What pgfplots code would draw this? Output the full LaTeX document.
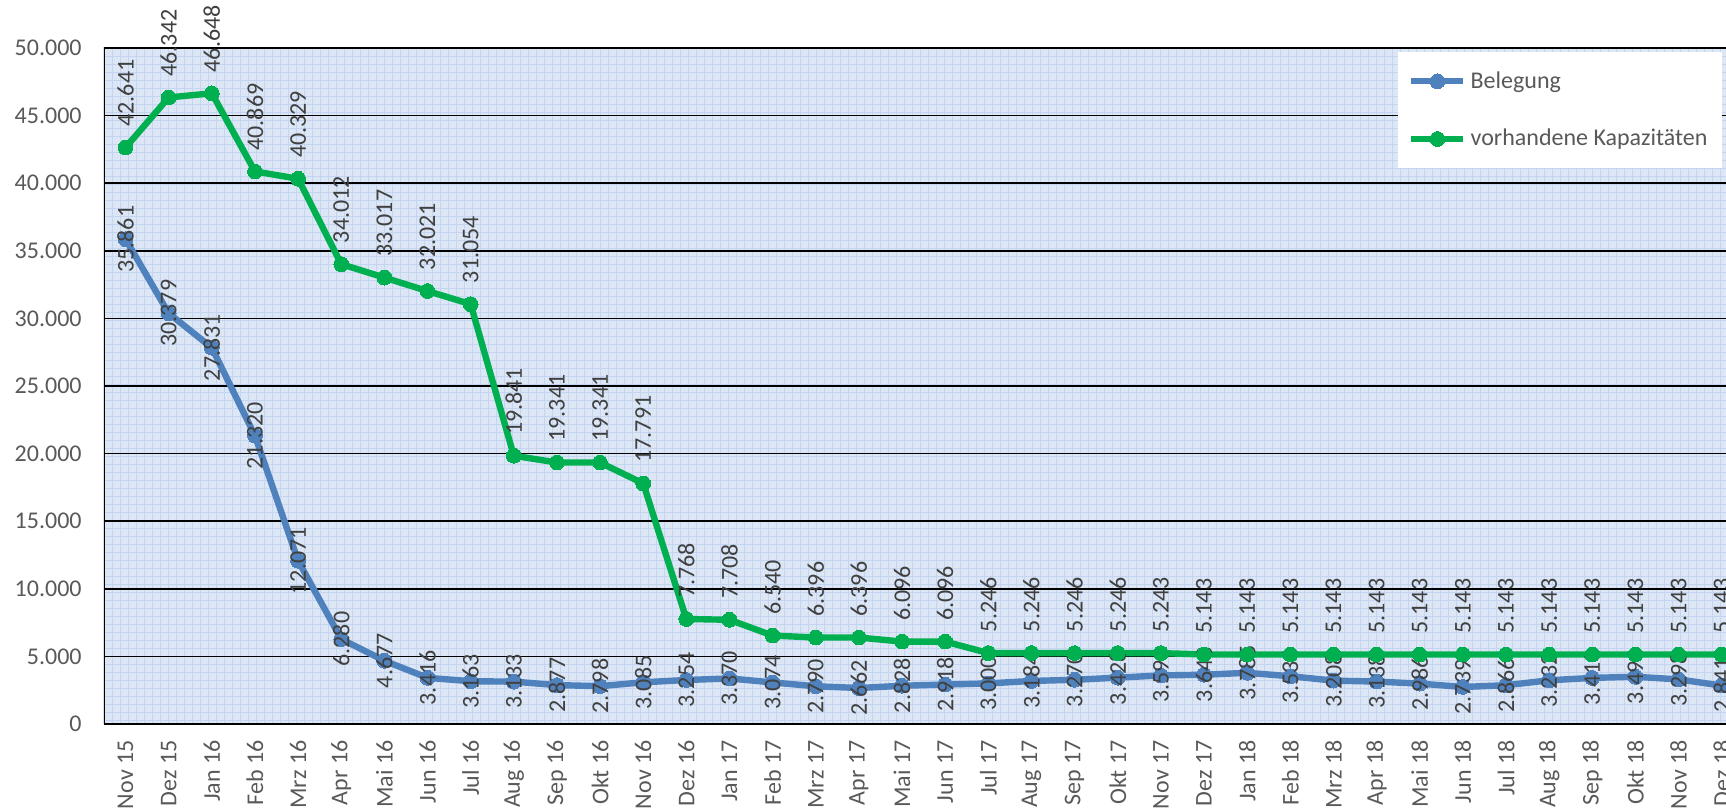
\documentclass[border=0pt]{standalone}
\usepackage{pgfplots}
\pgfplotsset{compat=1.18}
\usepackage{pgfplotstable}
\usepackage{fontspec}
\setmainfont{Carlito}
\usetikzlibrary{patterns}
\definecolor{serblue}{HTML}{4F81BD}
\definecolor{sergreen}{HTML}{00B050}
\definecolor{bgblue}{HTML}{DCE6F5}
\definecolor{gridblue}{HTML}{C3D5F0}
\definecolor{labgray}{HTML}{595959}
\definecolor{datgray}{HTML}{404040}
\pgfdeclarepatternformonly{bggrid}{\pgfqpoint{-1pt}{-1pt}}{\pgfqpoint{5pt}{5pt}}{\pgfqpoint{4pt}{4pt}}{%
  \pgfsetlinewidth{0.5pt}%
  \pgfpathmoveto{\pgfqpoint{0pt}{0pt}}\pgfpathlineto{\pgfqpoint{4.1pt}{0pt}}%
  \pgfpathmoveto{\pgfqpoint{0pt}{0pt}}\pgfpathlineto{\pgfqpoint{0pt}{4.1pt}}%
  \pgfusepath{stroke}}

\pgfplotstableread{
i bel kap
0 35861 42641
1 30379 46342
2 27831 46648
3 21320 40869
4 12071 40329
5 6280 34012
6 4677 33017
7 3416 32021
8 3163 31054
9 3133 19841
10 2877 19341
11 2798 19341
12 3085 17791
13 3254 7768
14 3370 7708
15 3074 6540
16 2790 6396
17 2662 6396
18 2828 6096
19 2918 6096
20 3000 5246
21 3184 5246
22 3270 5246
23 3428 5246
24 3593 5243
25 3643 5143
26 3785 5143
27 3534 5143
28 3208 5143
29 3138 5143
30 2986 5143
31 2739 5143
32 2866 5143
33 3232 5143
34 3410 5143
35 3494 5143
36 3298 5143
37 2841 5143
}\datatable

\begin{document}
\begin{tikzpicture}[font=\fontsize{12}{14}\selectfont]
\begin{axis}[
  at={(0,0)}, anchor=south west,
  scale only axis,
  width=811pt, height=338pt,
  xmin=-0.5, xmax=37.1,
  ymin=0, ymax=50000,
  enlargelimits=false,
  xtick={0,...,37},
  xticklabels={Nov 15, Dez 15, Jan 16, Feb 16, Mrz 16, Apr 16, Mai 16, Jun 16, Jul 16, Aug 16, Sep 16, Okt 16, Nov 16, Dez 16, Jan 17, Feb 17, Mrz 17, Apr 17, Mai 17, Jun 17, Jul 17, Aug 17, Sep 17, Okt 17, Nov 17, Dez 17, Jan 18, Feb 18, Mrz 18, Apr 18, Mai 18, Jun 18, Jul 18, Aug 18, Sep 18, Okt 18, Nov 18, Dez 18},
  ytick={0,5000,...,50000},
  major tick length=0pt,
  xticklabel style={rotate=90, anchor=east, inner sep=0pt, text=labgray},
  yticklabel style={anchor=east, inner sep=0pt, text=labgray},
  xticklabel shift=8pt,
  yticklabel shift=11pt,
  /pgf/number format/.cd, fixed, precision=0, 1000 sep={.}, assume math mode=true,
  /pgfplots/.cd,
  scaled y ticks=false,
  axis line style={draw=none},
  ymajorgrids,
  major grid style={black, line width=0.8pt},
  axis background/.style={fill=bgblue, postaction={pattern=bggrid, pattern color=gridblue}},
  legend cell align=left,
  legend image code/.code={\draw[mark repeat=2,mark phase=2,#1] plot coordinates {(0pt,0pt) (13pt,0pt) (26pt,0pt)};},
  legend style={at={(rel axis cs:0.9975,0.994)}, anchor=north east, draw=none, fill=white,
    inner xsep=5pt, inner ysep=7.5pt, row sep=15pt, text=labgray,
    font=\fontsize{12}{14}\selectfont, nodes={inner sep=2pt}},
  every node near coord/.append style={font=\fontsize{12}{14}\selectfont, text=datgray},
]
\addplot[serblue, line width=3.2pt, line join=round, mark=*, mark size=3.7pt,
  mark options={solid, fill=serblue, draw=serblue, line width=0pt},
  nodes near coords,
  every node near coord/.append style={rotate=90, anchor=center, inner sep=0pt}]
  table[x=i, y=bel] {\datatable};
\addlegendentry{Belegung}
\addplot[sergreen, line width=3.2pt, line join=round, mark=*, mark size=3.7pt,
  mark options={solid, fill=sergreen, draw=sergreen, line width=0pt},
  nodes near coords,
  every node near coord/.append style={rotate=90, anchor=west, inner xsep=10.5pt, inner ysep=0pt}]
  table[x=i, y=kap] {\datatable};
\addlegendentry{vorhandene Kapazitäten}
\draw[black, line width=1.5pt] (rel axis cs:0,0) -- (rel axis cs:0,1) -- (rel axis cs:1,1);
\draw[black, line width=1.1pt] (rel axis cs:0,0) -- (rel axis cs:1,0);
\draw[gray!70!black, line width=0.8pt] ([yshift=-2.6pt]rel axis cs:0,0) -- ([yshift=-2.6pt]rel axis cs:1,0);
\end{axis}
\pgfresetboundingbox
\path[use as bounding box] (-52pt,-42.5pt) rectangle (811pt,362pt);
\end{tikzpicture}
\end{document}
